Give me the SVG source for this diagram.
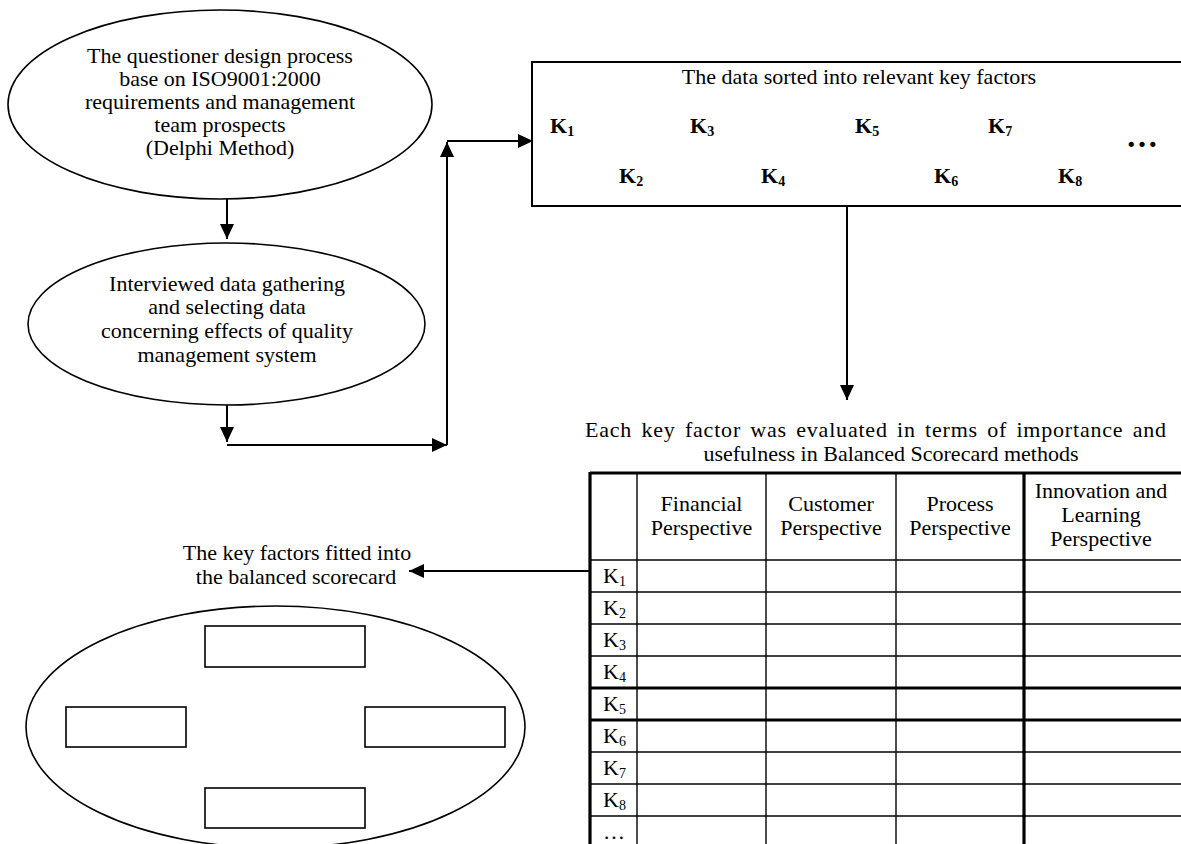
<svg xmlns="http://www.w3.org/2000/svg" width="1181" height="844" viewBox="0 0 1181 844">
<defs>
<marker id="ah" markerUnits="userSpaceOnUse" markerWidth="16" markerHeight="15" refX="15" refY="7" orient="auto">
<path d="M0,0 L15,7 L0,14 z" fill="#000"/>
</marker>
<style>
text{font-family:"Liberation Serif","Times New Roman",serif;font-size:22px;fill:#000}
.c{text-anchor:middle}
.b{font-weight:bold}
.sub{font-size:14px}
.shape{fill:none;stroke:#000;stroke-width:1.6}
.con{fill:none;stroke:#000;stroke-width:2;marker-end:url(#ah)}
.ln{fill:none;stroke:#000;stroke-width:2}
.thin{stroke:#000;stroke-width:1.4}
.thick{stroke:#000;stroke-width:3.2}
</style>
</defs>
<rect width="1181" height="844" fill="#fff"/>

<g id="node-questioner">
<ellipse class="shape" cx="220" cy="104.5" rx="212" ry="94.5"/>
<text class="c" x="220" y="63">The questioner design process</text>
<text class="c" x="220" y="86">base on ISO9001:2000</text>
<text class="c" x="220" y="109">requirements and management</text>
<text class="c" x="220" y="132">team prospects</text>
<text class="c" x="220" y="155">(Delphi Method)</text>
</g>

<g id="node-interviewed">
<ellipse class="shape" cx="226.5" cy="324" rx="198.5" ry="81"/>
<text class="c" x="227" y="291">Interviewed data gathering</text>
<text class="c" x="227" y="314">and selecting data</text>
<text class="c" x="227" y="338">concerning effects of quality</text>
<text class="c" x="227" y="362">management system</text>
</g>

<g id="node-keyfactors">
<path class="ln" d="M1185,62 H532 V206 H1185"/>
<text class="c" x="859" y="84">The data sorted into relevant key factors</text>
<text class="b" x="550" y="133">K<tspan class="sub" dy="3">1</tspan></text>
<text class="b" x="690" y="133">K<tspan class="sub" dy="3">3</tspan></text>
<text class="b" x="855" y="133">K<tspan class="sub" dy="3">5</tspan></text>
<text class="b" x="988" y="133">K<tspan class="sub" dy="3">7</tspan></text>
<text class="b" x="619" y="183">K<tspan class="sub" dy="3">2</tspan></text>
<text class="b" x="761" y="183">K<tspan class="sub" dy="3">4</tspan></text>
<text class="b" x="934" y="183">K<tspan class="sub" dy="3">6</tspan></text>
<text class="b" x="1058" y="183">K<tspan class="sub" dy="3">8</tspan></text>
<text class="b" x="1126" y="147" style="font-size:32px">…</text>
</g>

<g id="node-evaluation">
<text x="585" y="437" style="letter-spacing:0.8px;word-spacing:3px">Each key factor was evaluated in terms of importance and</text>
<text class="c" x="891" y="461">usefulness in Balanced Scorecard methods</text>
<g id="table">
<line class="thin" x1="637" y1="473" x2="637" y2="844"/>
<line class="thin" x1="766" y1="473" x2="766" y2="844"/>
<line class="thin" x1="896" y1="473" x2="896" y2="844"/>
<line class="thick" x1="1024" y1="473" x2="1024" y2="844"/>
<line class="thin" x1="590" y1="560" x2="1181" y2="560"/>
<line class="thin" x1="590" y1="592" x2="1181" y2="592"/>
<line class="thin" x1="590" y1="624" x2="1181" y2="624"/>
<line class="thin" x1="590" y1="656" x2="1181" y2="656"/>
<line class="thick" x1="590" y1="688" x2="1181" y2="688"/>
<line class="thick" x1="590" y1="720" x2="1181" y2="720"/>
<line class="thin" x1="590" y1="752" x2="1181" y2="752"/>
<line class="thin" x1="590" y1="784" x2="1181" y2="784"/>
<line class="thin" x1="590" y1="816" x2="1181" y2="816"/>
<line class="thick" x1="590" y1="473" x2="1181" y2="473"/>
<line class="thick" x1="590" y1="472" x2="590" y2="844"/>
<text class="c" x="701.5" y="511">Financial</text>
<text class="c" x="701.5" y="535">Perspective</text>
<text class="c" x="831" y="511">Customer</text>
<text class="c" x="831" y="535">Perspective</text>
<text class="c" x="960" y="511">Process</text>
<text class="c" x="960" y="535">Perspective</text>
<text class="c" x="1101" y="498">Innovation and</text>
<text class="c" x="1101" y="522">Learning</text>
<text class="c" x="1101" y="546">Perspective</text>
<text x="603" y="583">K<tspan class="sub" dy="3">1</tspan></text>
<text x="603" y="615">K<tspan class="sub" dy="3">2</tspan></text>
<text x="603" y="647">K<tspan class="sub" dy="3">3</tspan></text>
<text x="603" y="679">K<tspan class="sub" dy="3">4</tspan></text>
<text x="603" y="711">K<tspan class="sub" dy="3">5</tspan></text>
<text x="603" y="743">K<tspan class="sub" dy="3">6</tspan></text>
<text x="603" y="775">K<tspan class="sub" dy="3">7</tspan></text>
<text x="603" y="807">K<tspan class="sub" dy="3">8</tspan></text>
<text x="603" y="839">…</text>
</g>
</g>

<g id="node-scorecard">
<text class="c" x="297" y="560">The key factors fitted into</text>
<text class="c" x="296" y="584">the balanced scorecard</text>
<ellipse class="shape" cx="275.5" cy="727" rx="249.5" ry="121"/>
<rect class="shape" x="205" y="626" width="160" height="41"/>
<rect class="shape" x="66" y="707" width="120" height="40"/>
<rect class="shape" x="365" y="707" width="140" height="40"/>
<rect class="shape" x="205" y="788" width="160" height="40"/>
</g>

<g id="connectors">
<path class="con" d="M227,199 V239"/>
<path class="con" d="M227,405 V442"/>
<path class="con" d="M227,445 H447"/>
<path class="con" d="M447,445 V142"/>
<path class="con" d="M447,141 H533"/>
<path class="con" d="M847,207 V400"/>
<path class="con" d="M590,571 H409"/>
</g>
</svg>
